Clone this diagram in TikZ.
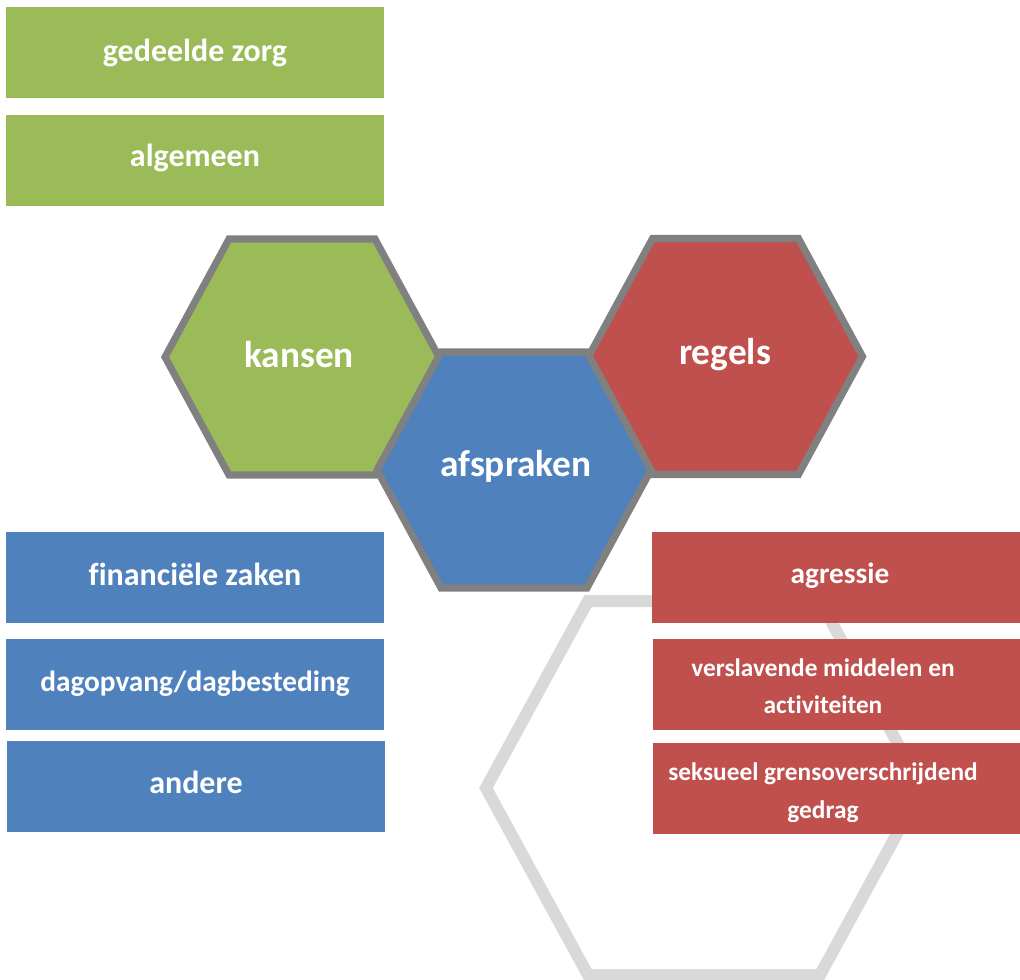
\documentclass[tikz,border=0pt]{standalone}
\usepackage{fontspec}
\setmainfont[Ligatures=NoCommon]{Carlito}
\definecolor{grn}{HTML}{9BBB59}
\definecolor{blu}{HTML}{4F81BD}
\definecolor{rd}{HTML}{C0504D}
\definecolor{hexline}{HTML}{808080}
\definecolor{ghost}{HTML}{D9D9D9}
\tikzset{
  boxshape/.style={rectangle, inner sep=0pt, draw=none, minimum width=283.5pt, minimum height=68.25pt},
  rboxshape/.style={rectangle, inner sep=0pt, draw=none, minimum width=276pt, minimum height=68.25pt},
  boxtext/.style={anchor=base, text=white, font=\bfseries\fontsize{24pt}{29pt}\selectfont, inner sep=0pt},
  hextext/.style={anchor=base, text=white, font=\bfseries\fontsize{28pt}{34pt}\selectfont, inner sep=0pt},
  hexpath/.style={draw=hexline, line width=5.3pt, line join=miter},
  ghosthex/.style={draw=ghost, line width=9pt, line join=miter},
}
\begin{document}
\begin{tikzpicture}[x=0.75pt,y=-0.75pt]
\useasboundingbox (0,0) rectangle (1020,980);
% faint background hexagon
\draw[ghosthex, shift={(704,788)}] (-218,0) -- (-116,-187) -- (116,-187) -- (218,0) -- (116,187) -- (-116,187) -- cycle;
% green boxes
\node[boxshape, fill=grn] (gz) at (195,52.5) {};
\node[boxtext] (gzt) at (195,61.7) {gedeelde zorg};
\node[boxshape, fill=grn] (alg) at (195,160.5) {};
\node[boxtext] (algt) at (195,166.7) {algemeen};
% blue boxes
\node[boxshape, fill=blu] (fin) at (195,577.5) {};
\node[boxtext] (fint) at (195,585) {financiële zaken};
\node[boxshape, fill=blu] (dag) at (195,684.5) {};
\node[boxtext, font=\bfseries\fontsize{22pt}{27pt}\selectfont] (dagt) at (195,691.7) {dagopvang/dagbesteding};
\node[boxshape, fill=blu] (and) at (196,786.5) {};
\node[boxtext] (andt) at (196,793.3) {andere};
% red boxes
\node[rboxshape, fill=rd] (agr) at (836,577.5) {};
\node[boxtext, font=\bfseries\fontsize{22pt}{27pt}\selectfont] (agrt) at (840,583) {agressie};
\node[rboxshape, fill=rd] (ver) at (836.5,684.5) {};
\node[boxtext, font=\bfseries\fontsize{19pt}{23pt}\selectfont] (vert1) at (823,676.7) {verslavende middelen en};
\node[boxtext, font=\bfseries\fontsize{19pt}{23pt}\selectfont] (vert2) at (823,713.3) {activiteiten};
\node[rboxshape, fill=rd] (sek) at (836.5,788.5) {};
\begin{scope}
\clip (653,743) rectangle (1020,821);
\node[boxtext, font=\bfseries\fontsize{19pt}{23pt}\selectfont] (sekt1) at (823,780) {seksueel grensoverschrijdend};
\node[boxtext, font=\bfseries\fontsize{19pt}{23pt}\selectfont] (sekt2) at (823,818) {gedrag};
\end{scope}
% hexagons
\draw[hexpath, fill=grn, shift={(302,357)}] (-137,0) -- (-73,-118) -- (73,-118) -- (137,0) -- (73,118) -- (-73,118) -- cycle;
\draw[hexpath, fill=rd, shift={(725.5,356.5)}] (-137,0) -- (-73,-118) -- (73,-118) -- (137,0) -- (73,118) -- (-73,118) -- cycle;
\draw[hexpath, fill=blu, shift={(514,470)}] (-137,0) -- (-73,-118) -- (73,-118) -- (137,0) -- (73,118) -- (-73,118) -- cycle;
\node[hextext] (kansen) at (299,367) {kansen};
\node[hextext] (regels) at (725,364) {regels};
\node[hextext] (afspraken) at (516,476) {afspraken};
\end{tikzpicture}
\end{document}
